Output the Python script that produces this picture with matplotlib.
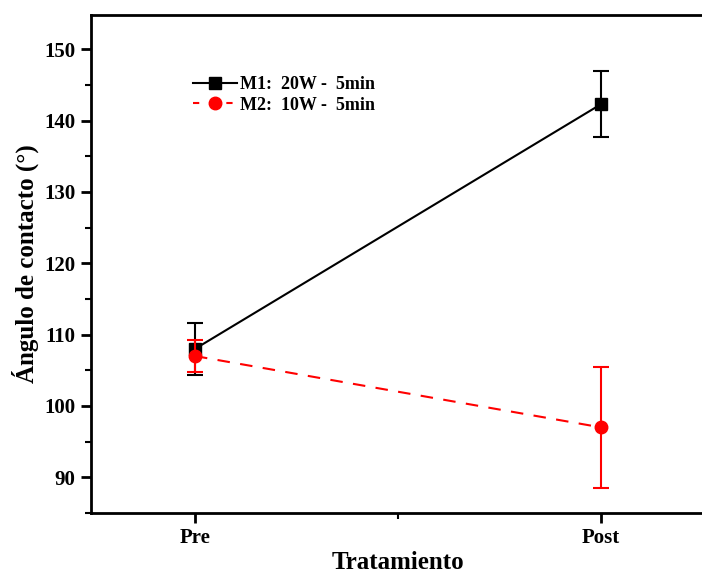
import matplotlib
matplotlib.use("Agg")
import matplotlib.pyplot as plt
from matplotlib.ticker import MultipleLocator, FixedLocator
from matplotlib.lines import Line2D

plt.rcParams['font.family'] = ['Liberation Serif', 'DejaVu Serif']
plt.rcParams['font.weight'] = 'bold'

categories = ["Pre", "Post"]
m1_values = [108.0, 142.3]
m1_err = [3.7, 4.6]
m2_values = [107.0, 97.0]
m2_err = [2.3, 8.5]
labels = ["M1:  20W -  5min", "M2:  10W -  5min"]

fig = plt.figure(figsize=(7.02, 5.76), dpi=100)
W, H = 702, 576
left, right, top, bottom = 91, 705, 15, 513
ax = fig.add_axes([left / W, 1 - bottom / H, (right - left) / W, (bottom - top) / H])

x = list(range(len(categories)))
dash = (0, (6, 5))
ax.errorbar(x, m1_values, yerr=m1_err, color='black', marker='s', markersize=8,
            linewidth=1.5, capsize=6, capthick=1.5, elinewidth=1.5, zorder=3)
ax.errorbar(x, m2_values, yerr=m2_err, color='#ff0000', marker='o', markersize=9,
            linewidth=1.5, linestyle=dash, capsize=6, capthick=1.5, elinewidth=1.5,
            zorder=4)

ax.set_xlim(-0.256, 1.256)
ax.set_ylim(85, 154.8)
ax.set_xticks(x)
ax.set_xticklabels(categories)
ax.xaxis.set_minor_locator(FixedLocator([0.5]))
ax.yaxis.set_major_locator(MultipleLocator(10))
ax.yaxis.set_minor_locator(MultipleLocator(5))
ax.tick_params(which='major', direction='out', length=7, width=2, labelsize=15, pad=4)
ax.tick_params(which='minor', direction='out', length=4, width=1.5)
ax.tick_params(axis='x', which='both', top=False)
for lab in ax.get_xticklabels() + ax.get_yticklabels():
    lab.set_fontweight('bold')
for s in ax.spines.values():
    s.set_linewidth(2)

ax.set_xlabel("Tratamiento", fontsize=18, fontweight='bold', labelpad=2)
ax.set_ylabel("Ángulo de contacto (°)", fontsize=18, fontweight='bold', labelpad=4)

handles = [
    Line2D([], [], color='black', marker='s', markersize=8, linewidth=1.5),
    Line2D([], [], color='#ff0000', marker='o', markersize=9, linewidth=1.5, linestyle=(0, (3, 5))),
]
ax.legend(handles, labels, loc='upper left', bbox_to_anchor=(0.14, 0.91), frameon=False,
          prop={'weight': 'bold', 'size': 13}, handlelength=2.4,
          handletextpad=0.2, labelspacing=0.2)

fig.savefig("out.png", dpi=100)
